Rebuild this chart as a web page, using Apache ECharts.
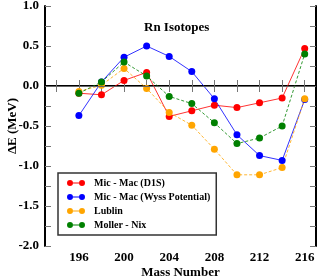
<!DOCTYPE html>
<html>
<head>
<meta charset="utf-8">
<script src="https://cdn.jsdelivr.net/npm/echarts@6/dist/echarts.min.js"></script>
<style>
html,body{margin:0;padding:0;background:#fff;}
#c{width:318px;height:278px;}
</style>
</head>
<body>
<div id="c"></div>
<script>
var massNumbers = [196, 198, 200, 202, 204, 206, 208, 210, 212, 214, 216];
var micMacD1S   = [-0.09, -0.11, 0.07, 0.17, -0.38, -0.31, -0.24, -0.27, -0.21, -0.15, 0.47];
var micMacWyss  = [-0.37, 0.05, 0.36, 0.50, 0.37, 0.18, -0.16, -0.61, -0.87, -0.93, -0.17];
var lublin      = [-0.07, 0.01, 0.22, -0.03, -0.33, -0.49, -0.79, -1.11, -1.11, -1.02, -0.16];
var mollerNix   = [-0.09, 0.05, 0.30, 0.125, -0.13, -0.22, -0.46, -0.72, -0.65, -0.50, 0.40];
var xTickValues  = [194, 196, 198, 200, 202, 204, 206, 208, 210, 212, 214, 216];
var xLabelValues = [196, 200, 204, 208, 212, 216];
var seriesNames  = ['Mic - Mac (D1S)', 'Mic - Mac (Wyss Potential)', 'Lublin', 'Moller - Nix'];

function pairs(ys){ return massNumbers.map(function(x,i){ return [x, ys[i]]; }); }

var font = 'Liberation Serif';
var legendIcon = 'path://M0,4a4,4 0 1,0 8,0a4,4 0 1,0 -8,0Z M8,3.4h8v1.2h-8Z M16,4a4,4 0 1,0 8,0a4,4 0 1,0 -8,0Z';

function mk(name, data, color, dashed){
  return {
    name: name, type: 'line', data: pairs(data),
    symbol: 'circle', symbolSize: 7,
    itemStyle: {color: color},
    lineStyle: {color: color, width: 1, type: dashed ? [3,2] : 'solid', opacity: 0.8},
    emphasis: {disabled: true}, animation: false
  };
}

var series = [
  mk(seriesNames[0], micMacD1S, '#ff0000', false),
  mk(seriesNames[1], micMacWyss, '#0000ff', false),
  mk(seriesNames[2], lublin, '#ffa500', true),
  mk(seriesNames[3], mollerNix, '#008000', true)
];
series[0].markLine = {
  silent: true, symbol: 'none', label: {show: false},
  lineStyle: {color: '#666', width: 1, type: 'solid'},
  data: [{yAxis: 0}], animation: false
};

var chart = echarts.init(document.getElementById('c'));
chart.setOption({
  animation: false,
  backgroundColor: '#fff',
  title: {
    text: 'Rn Isotopes', left: 144, top: 21, padding: 0,
    textStyle: {fontFamily: font, fontWeight: 'bold', fontSize: 13, color: '#000'}
  },
  legend: {
    orient: 'vertical', left: 58, top: 173,
    padding: [4, 6, 4, 9], itemGap: 2,
    itemWidth: 18, itemHeight: 6,
    backgroundColor: '#fff', borderColor: '#333', borderWidth: 1.5, borderRadius: 0,
    icon: legendIcon,
    textStyle: {fontFamily: font, fontWeight: 'bold', fontSize: 10, color: '#000', lineHeight: 12, padding: [0,0,0,4]},
    data: seriesNames
  },
  grid: {left: 45, right: 2, top: 6, bottom: 32, containLabel: false, outerBoundsMode: 'none'},
  xAxis: [{
    type: 'value', min: 193, max: 217, position: 'bottom',
    name: 'Mass Number', nameLocation: 'middle', nameGap: 20, nameMoveOverlap: false,
    nameTextStyle: {fontFamily: font, fontWeight: 'bold', fontSize: 13, color: '#000'},
    axisLine: {lineStyle: {color: '#000', width: 2}},
    axisTick: {inside: true, length: 6, customValues: xTickValues, lineStyle: {color: '#777', width: 1}},
    axisLabel: {customValues: xLabelValues, margin: 5, fontFamily: font, fontWeight: 'bold', fontSize: 13, color: '#000'},
    splitLine: {show: false}
  }, {
    type: 'value', min: 193, max: 217, position: 'top',
    axisLine: {lineStyle: {color: '#000', width: 2}},
    axisTick: {inside: true, length: 6, customValues: xTickValues, lineStyle: {color: '#777', width: 1}},
    axisLabel: {show: false},
    splitLine: {show: false}
  }],
  yAxis: [{
    type: 'value', min: -2, max: 1, interval: 0.25, position: 'left',
    name: 'ΔE (MeV)', nameLocation: 'middle', nameGap: 26, nameRotate: 90, nameMoveOverlap: false,
    nameTextStyle: {fontFamily: font, fontWeight: 'bold', fontSize: 13, color: '#000'},
    axisLine: {lineStyle: {color: '#000', width: 2}},
    axisTick: {inside: true, length: 6, lineStyle: {color: '#777', width: 1}},
    axisLabel: {
      margin: 6, fontFamily: font, fontWeight: 'bold', fontSize: 13, color: '#000',
      formatter: function(v){ return Math.abs(v*2 - Math.round(v*2)) < 1e-6 ? v.toFixed(1) : ''; }
    },
    splitLine: {show: false}
  }, {
    type: 'value', min: -2, max: 1, interval: 0.25, position: 'right',
    axisLine: {lineStyle: {color: '#000', width: 2}},
    axisTick: {inside: true, length: 6, lineStyle: {color: '#777', width: 1}},
    axisLabel: {show: false},
    splitLine: {show: false}
  }],
  series: series
});
</script>
</body>
</html>
